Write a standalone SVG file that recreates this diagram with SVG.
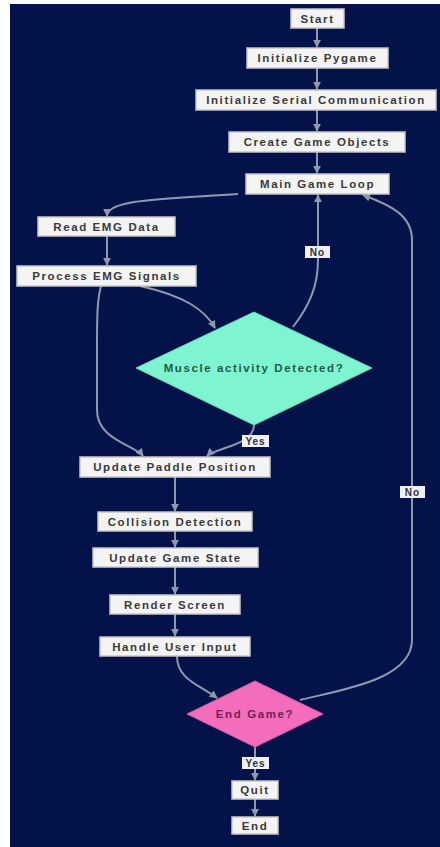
<svg xmlns="http://www.w3.org/2000/svg" width="440" height="847" viewBox="0 0 440 847">
<defs>
<marker id="arr" viewBox="0 0 10 10" refX="9" refY="5" markerWidth="8" markerHeight="8" markerUnits="userSpaceOnUse" orient="auto">
<path d="M0,0 L10,5 L0,10 z" fill="#9098ad"/>
</marker>
<style>
.box{fill:#f4f4f4;stroke:#c8c8c8;stroke-width:1.5}
.t{font-family:"Liberation Sans",Arial,sans-serif;font-size:11.5px;font-weight:bold;letter-spacing:1.6px;fill:#3a3a3a;text-anchor:middle;dominant-baseline:central}
.e{fill:none;stroke:#9098ad;stroke-width:2;marker-end:url(#arr)}
.lb{fill:#eef0f6}
.lt{font-family:"Liberation Sans",Arial,sans-serif;font-size:10px;font-weight:bold;letter-spacing:1px;fill:#333;text-anchor:middle;dominant-baseline:central}
</style>
</defs>
<rect x="0" y="0" width="440" height="847" fill="#ffffff"/>
<rect x="10" y="4" width="430" height="843" fill="#03134a"/>
<g id="connectors">
<path class="e" d="M317,28 L317,47"/>
<path class="e" d="M317,68 L317,89"/>
<path class="e" d="M317,110 L317,131"/>
<path class="e" d="M317,152 L317,173"/>
<path class="e" d="M238,194 C165,199 107,199 107,216"/>
<path class="e" d="M107,236 L107,265"/>
<path class="e" d="M140,286 C185,296 205,310 215,328"/>
<path class="e" d="M101,286 C97,300 97,320 97,345 L97,410 C97,440 135,445 143,456"/>
<path class="e" d="M254,425 C254,445 215,448 207,456"/>
<path class="e" d="M293,327 C310,305 318,285 318,260 L318,195"/>
<path class="e" d="M175,477 L175,511"/>
<path class="e" d="M175,531 L175,547"/>
<path class="e" d="M175,567 L175,594"/>
<path class="e" d="M175,614 L175,636"/>
<path class="e" d="M177,656 C177,680 200,685 217,698"/>
<path class="e" d="M300,700 C340,690 412,680 412,640 L412,240 C412,215 390,205 363,195"/>
<path class="e" d="M255,747 L255,780"/>
<path class="e" d="M255,799 L255,816"/>
<rect class="lb" x="305" y="246" width="25" height="12"/>
<text class="lt" x="317.5" y="252">No</text>
<rect class="lb" x="242" y="435" width="27" height="12"/>
<text class="lt" x="255.5" y="441">Yes</text>
<rect class="lb" x="400" y="486" width="25" height="12"/>
<text class="lt" x="412.5" y="492">No</text>
<rect class="lb" x="242" y="757" width="27" height="12"/>
<text class="lt" x="255.5" y="763">Yes</text>
</g>
<g id="start"><rect class="box" x="291" y="9" width="53" height="19"/><text class="t" x="317.5" y="18.5">Start</text></g>
<g id="init-pygame"><rect class="box" x="247" y="48" width="141" height="20"/><text class="t" x="317.5" y="58">Initialize Pygame</text></g>
<g id="init-serial"><rect class="box" x="196" y="90" width="240" height="20"/><text class="t" x="316" y="100">Initialize Serial Communication</text></g>
<g id="create-objects"><rect class="box" x="229" y="132" width="176" height="20"/><text class="t" x="317" y="142">Create Game Objects</text></g>
<g id="main-loop"><rect class="box" x="246" y="174" width="143" height="20"/><text class="t" x="317.5" y="184">Main Game Loop</text></g>
<g id="read-emg"><rect class="box" x="38" y="217" width="137" height="19"/><text class="t" x="106.5" y="226.5">Read EMG Data</text></g>
<g id="process-emg"><rect class="box" x="17" y="266" width="179" height="20"/><text class="t" x="106.5" y="276">Process EMG Signals</text></g>
<g id="muscle"><polygon points="254,312 372,368 254,425 136,368" fill="#7ef5d0" stroke="#6ad8b6" stroke-width="1"/><text class="t" x="254" y="368" style="fill:#1f5b48">Muscle activity Detected?</text></g>
<g id="update-paddle"><rect class="box" x="80" y="457" width="190" height="20"/><text class="t" x="175" y="467">Update Paddle Position</text></g>
<g id="collision"><rect class="box" x="98" y="512" width="154" height="19"/><text class="t" x="175" y="521.5">Collision Detection</text></g>
<g id="update-state"><rect class="box" x="93" y="548" width="165" height="19"/><text class="t" x="175.5" y="557.5">Update Game State</text></g>
<g id="render"><rect class="box" x="110" y="595" width="130" height="19"/><text class="t" x="175" y="604.5">Render Screen</text></g>
<g id="handle-input"><rect class="box" x="100" y="637" width="150" height="19"/><text class="t" x="175" y="646.5">Handle User Input</text></g>
<g id="end-game"><polygon points="255,681 323,714 255,747 187,714" fill="#f46cbc" stroke="#d85aa4" stroke-width="1"/><text class="t" x="255" y="714" style="fill:#6e2350">End Game?</text></g>
<g id="quit"><rect class="box" x="232" y="781" width="46" height="18"/><text class="t" x="255" y="790">Quit</text></g>
<g id="end"><rect class="box" x="232" y="817" width="46" height="17"/><text class="t" x="255" y="825.5">End</text></g>
</svg>
